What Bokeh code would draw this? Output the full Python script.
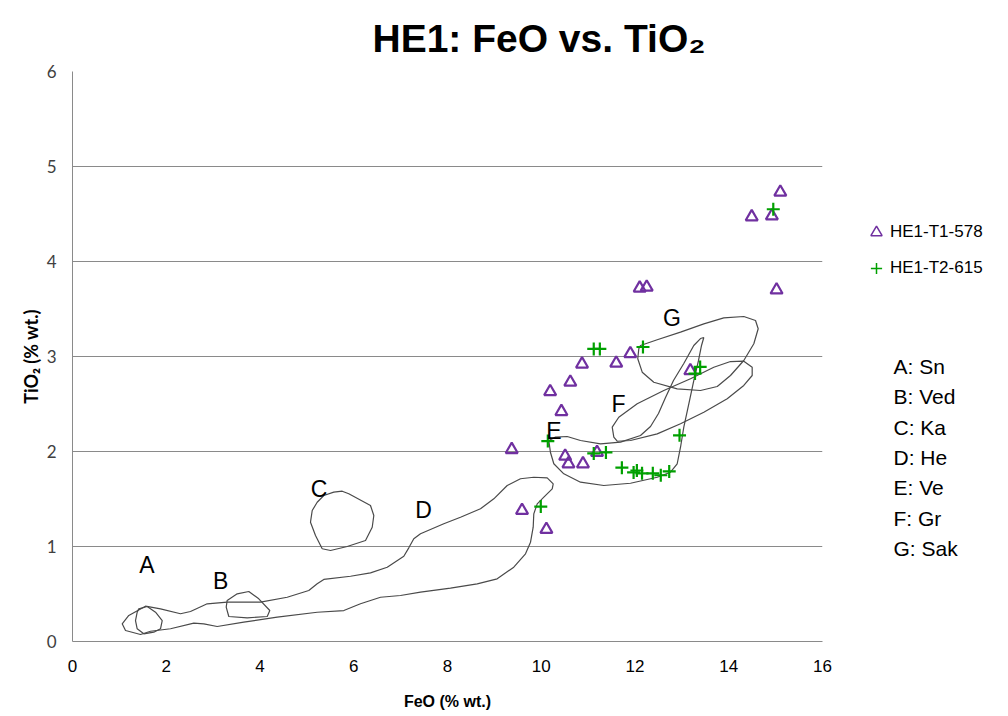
from bokeh.plotting import figure
from bokeh.layouts import row
from bokeh.models import Range1d, FixedTicker, Label, Legend, LegendItem
from bokeh.embed import file_html
from bokeh.resources import INLINE

# ---- data: sample points (FeO, TiO2) ----
t1_feo = [15.10, 14.49, 14.92, 12.10, 12.25, 15.02, 11.90, 11.60, 10.87, 10.62,
          10.19, 10.43, 9.37, 10.51, 10.58, 10.89, 11.19, 13.18, 9.59, 10.11]
t1_tio2 = [4.73, 4.47, 4.48, 3.72, 3.73, 3.70, 3.03, 2.93, 2.92, 2.73,
           2.63, 2.42, 2.02, 1.95, 1.87, 1.87, 1.99, 2.85, 1.38, 1.18]

t2_feo = [14.95, 11.12, 11.25, 12.17, 13.39, 13.28, 10.14, 12.95, 11.12, 11.38,
          11.72, 11.97, 12.04, 12.15, 12.38, 12.55, 12.73, 9.99]
t2_tio2 = [4.55, 3.08, 3.08, 3.10, 2.89, 2.82, 2.11, 2.17, 1.98, 1.99,
           1.83, 1.78, 1.80, 1.77, 1.77, 1.75, 1.79, 1.42]

# ---- data: field outlines (FeO, TiO2) ----
a_x = [1.414, 1.594, 1.771, 1.914, 1.877, 1.734, 1.521, 1.380, 1.344, 1.380]
a_y = [0.344, 0.368, 0.308, 0.221, 0.134, 0.098, 0.081, 0.134, 0.221, 0.308]

b_x = [3.300, 3.514, 3.761, 3.974, 4.209, 4.154, 3.727, 3.334, 3.279]
b_y = [0.432, 0.502, 0.526, 0.449, 0.326, 0.263, 0.249, 0.263, 0.361]

c_x = [5.361, 5.574, 5.754, 5.894, 6.357, 6.428, 6.394, 6.251, 5.860, 5.504,
       5.327, 5.184, 5.077, 5.114, 5.220]
c_y = [1.537, 1.572, 1.582, 1.555, 1.432, 1.326, 1.203, 1.063, 1.000, 0.958,
       0.976, 1.116, 1.256, 1.379, 1.466]

d_x = [1.557, 1.877, 2.304, 2.517, 2.874, 3.300, 4.011, 4.580, 5.041, 5.220,
       5.361, 5.931, 6.357, 6.714, 7.068, 7.174, 7.281, 7.424, 7.921, 8.277,
       8.704, 8.988, 9.274, 9.557, 9.841, 10.127, 10.255, 10.234, 10.055, 9.914,
       9.841, 9.828, 9.771, 9.664, 9.414, 9.060, 8.634, 8.064, 7.424, 6.997,
       6.571, 6.144, 5.788, 5.220, 4.367, 3.654, 3.087, 2.801, 2.588, 2.091,
       1.664, 1.451, 1.131, 1.060, 1.201]
d_y = [0.372, 0.344, 0.292, 0.316, 0.397, 0.414, 0.414, 0.466, 0.537, 0.607,
       0.653, 0.687, 0.723, 0.782, 0.898, 0.986, 1.081, 1.134, 1.239, 1.308,
       1.397, 1.502, 1.642, 1.713, 1.729, 1.723, 1.660, 1.607, 1.519, 1.449,
       1.344, 1.203, 1.045, 0.923, 0.782, 0.660, 0.607, 0.561, 0.519, 0.484,
       0.466, 0.397, 0.326, 0.308, 0.256, 0.203, 0.158, 0.186, 0.193, 0.134,
       0.108, 0.074, 0.116, 0.186, 0.274]

e_x = [10.161, 10.197, 10.268, 10.481, 10.837, 11.334, 11.904, 12.474, 12.757, 12.900,
       12.971, 13.041, 13.148, 13.254, 13.355, 13.419, 13.468, 13.397, 13.254, 13.041,
       12.821, 12.651, 12.501, 12.331, 12.117, 11.691, 11.264, 10.837, 10.553, 10.304]
e_y = [2.116, 1.989, 1.871, 1.765, 1.677, 1.642, 1.666, 1.729, 1.782, 1.871,
       2.045, 2.256, 2.502, 2.747, 2.958, 3.116, 3.200, 3.189, 3.116, 2.926,
       2.747, 2.568, 2.400, 2.263, 2.168, 2.098, 2.081, 2.116, 2.158, 2.151]

f_x = [11.548, 11.514, 11.654, 12.047, 12.614, 13.184, 13.681, 14.037, 14.321, 14.500,
       14.500, 14.321, 13.967, 13.468, 12.971, 12.474, 11.904, 11.620]
f_y = [2.151, 2.256, 2.361, 2.502, 2.642, 2.765, 2.887, 2.947, 2.951, 2.887,
       2.800, 2.695, 2.555, 2.414, 2.292, 2.186, 2.116, 2.108]

g_x = [12.117, 12.474, 12.971, 13.468, 13.894, 14.321, 14.571, 14.628, 14.535, 14.321,
       14.037, 13.754, 13.397, 12.900, 12.401, 12.154, 12.059, 12.081]
g_y = [3.116, 3.176, 3.256, 3.344, 3.407, 3.421, 3.379, 3.292, 3.134, 2.958,
       2.800, 2.684, 2.642, 2.660, 2.729, 2.835, 2.976, 3.081]

field_letters = ["A", "B", "C", "D", "E", "F", "G"]
field_label_x = [1.59, 3.16, 5.26, 7.49, 10.27, 11.65, 12.79]
field_label_y = [0.81, 0.635, 1.61, 1.38, 2.22, 2.50, 3.41]
field_names = ["A: Sn", "B: Ved", "C: Ka", "D: He", "E: Ve", "F: Gr", "G: Sak"]

series_names = ["HE1-T1-578", "HE1-T2-615"]
x_ticks = [0, 2, 4, 6, 8, 10, 12, 14, 16]
y_ticks = [0, 1, 2, 3, 4, 5, 6]

PURPLE = "#7030A0"
GREEN = "#00A000"

# ---- main figure ----
p = figure(width=832, height=716, output_backend="svg", toolbar_location=None,
           x_range=Range1d(0, 16), y_range=Range1d(0, 6),
           min_border_left=72, min_border_right=10, min_border_top=71,
           min_border_bottom=75)
p.outline_line_color = None

p.title.text = "HE1: FeO vs. TiO₂"
p.title.align = "left"
p.title.offset = 300
p.title.text_font = "Liberation Sans"
p.title.text_font_style = "bold"
p.title.text_font_size = "39px"
p.title.text_color = "black"
p.title.standoff = 23

p.xgrid.grid_line_color = None
p.ygrid.grid_line_color = "#8a8a8a"
p.ygrid.grid_line_width = 1
p.ygrid.ticker = FixedTicker(ticks=y_ticks)

p.xaxis.ticker = FixedTicker(ticks=x_ticks)
p.yaxis.ticker = FixedTicker(ticks=y_ticks)
for ax in (p.xaxis, p.yaxis):
    ax.axis_line_color = "#8a8a8a"
    ax.major_tick_line_color = None
    ax.minor_tick_line_color = None

p.xaxis.major_label_text_font = "Liberation Sans"
p.xaxis.major_label_text_font_size = "17px"
p.xaxis.major_label_text_color = "black"
p.xaxis.major_label_standoff = 12
p.xaxis.axis_label = "FeO (% wt.)"
p.xaxis.axis_label_text_font = "Liberation Sans"
p.xaxis.axis_label_text_font_style = "bold"
p.xaxis.axis_label_text_font_size = "16px"
p.xaxis.axis_label_text_color = "black"
p.xaxis.axis_label_standoff = 18

p.yaxis.major_label_text_font = "Lato"
p.yaxis.major_label_text_font_size = "17px"
p.yaxis.major_label_text_color = "#404040"
p.yaxis.major_label_standoff = 10
p.yaxis.axis_label = "TiO₂ (% wt.)"
p.yaxis.axis_label_text_font = "Lato"
p.yaxis.axis_label_text_font_style = "bold"
p.yaxis.axis_label_text_font_size = "18px"
p.yaxis.axis_label_text_color = "black"
p.yaxis.axis_label_standoff = 2

# field outlines
p.patches([a_x, b_x, c_x, d_x, e_x, f_x, g_x],
          [a_y, b_y, c_y, d_y, e_y, f_y, g_y],
          fill_color=None, line_color="#4a4a4a", line_width=1.2)

# samples
p.scatter(t1_feo, t1_tio2, marker="triangle", size=12, fill_color=None,
          line_color=PURPLE, line_width=2.2)
p.scatter(t2_feo, t2_tio2, marker="cross", size=13,
          line_color=GREEN, line_width=2.2)

# field letters inside plot
for letter, lx, ly in zip(field_letters, field_label_x, field_label_y):
    p.add_layout(Label(x=lx, y=ly, text=letter, text_align="center",
                       text_baseline="middle", text_font="Liberation Sans",
                       text_font_size="23px", text_color="black"))

# ---- right-hand panel: series legend and field key (1 unit = 1 px) ----
side = figure(width=176, height=716, output_backend="svg", toolbar_location=None,
              x_range=Range1d(0, 176), y_range=Range1d(0, 570),
              min_border_left=0, min_border_right=0, min_border_top=71,
              min_border_bottom=75)
side.axis.visible = False
side.grid.visible = False
side.outline_line_color = None

k1 = side.scatter(t1_feo[:1], t1_tio2[:1], marker="triangle", size=12,
                  fill_color=None, line_color=PURPLE, line_width=1.5, visible=False)
k2 = side.scatter(t2_feo[:1], t2_tio2[:1], marker="cross", size=13,
                  line_color=GREEN, line_width=1.5, visible=False)
legend = Legend(items=[LegendItem(label=series_names[0], renderers=[k1]),
                       LegendItem(label=series_names[1], renderers=[k2])],
                location=(30, 358), orientation="vertical",
                label_text_font="Liberation Sans", label_text_font_size="17px",
                label_text_color="black",
                glyph_width=28, glyph_height=30, label_standoff=0,
                spacing=6, padding=0, margin=0, click_policy="none",
                inactive_fill_alpha=0,
                border_line_color=None, background_fill_alpha=0)
side.add_layout(legend, "center")

for i, name in enumerate(field_names):
    side.add_layout(Label(x=61, y=275 - i * 30.33, text=name,
                          text_align="left", text_baseline="middle",
                          text_font="Liberation Sans", text_font_size="21px",
                          text_color="black"))

layout = row(p, side, spacing=0)
open("out.html", "w").write(file_html(layout, INLINE))
